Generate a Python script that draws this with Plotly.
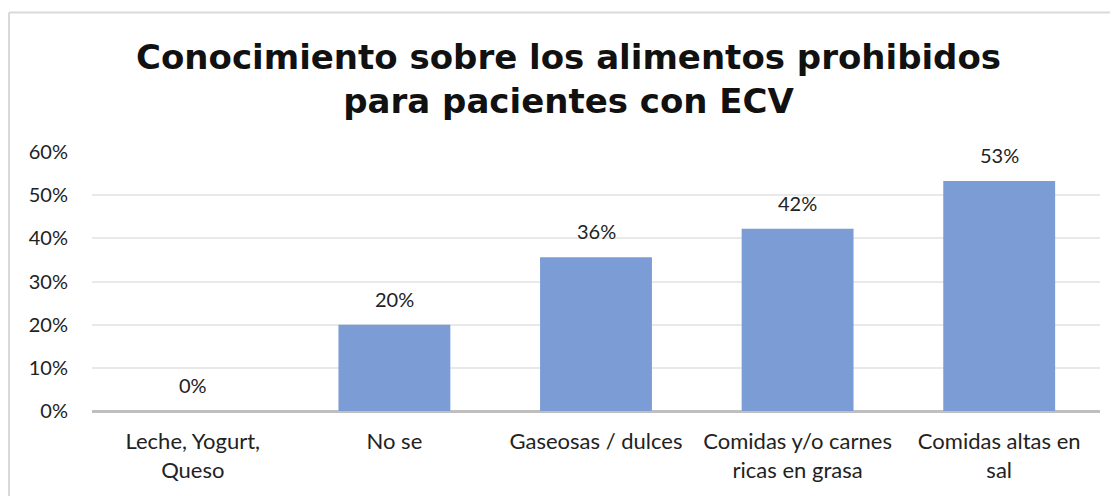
import plotly.graph_objects as go

categories = ["Leche, Yogurt,<br>Queso", "No se", "Gaseosas / dulces",
              "Comidas y/o carnes<br>ricas en grasa", "Comidas altas en<br>sal"]
values = [0.0, 0.20, 0.356, 0.422, 0.533]
tick_vals = [0, 0.1, 0.2, 0.3, 0.4, 0.5, 0.6]
tick_text = ["0%", "10%", "20%", "30%", "40%", "50%", "60%"]

W, H = 1110, 488
ml, mr, mt, mb = 84, 18, 144, 85
pw, ph = W - ml - mr, H - mt - mb

fig = go.Figure()
fig.add_trace(go.Bar(
    x=categories, y=values,
    marker=dict(color="#7B9CD5", line=dict(width=0)),
    hoverinfo="x+y",
))

annotations = [
    dict(x=c, y=v, xref="x", yref="y", text=f"{v:.0%}", showarrow=False,
         yanchor="bottom", yshift=12,
         font=dict(family="Lato", size=20, color="#222222"))
    for c, v in zip(categories, values)
]

# border lines (top and left only), in paper coordinates of the plot area
bx0 = (1 - ml) / pw
bx1 = (W + 20 - ml) / pw
by_top = (H - mb - 4.5) / ph
by_bot = -(mb + 20) / ph

fig.update_layout(
    width=W, height=H,
    margin=dict(l=ml, r=mr, t=mt, b=mb),
    paper_bgcolor="white", plot_bgcolor="white",
    bargap=0.445,
    showlegend=False,
    annotations=annotations,
    title=dict(
        text="<b>Conocimiento sobre los alimentos prohibidos<br>para pacientes con ECV</b>",
        font=dict(family="DejaVu Sans", size=34, color="#111111"),
        x=0.505, xanchor="center", y=0.875, yanchor="top", xref="container", yref="container",
    ),
    xaxis=dict(
        showgrid=False, showline=False, zeroline=False,
        tickfont=dict(family="Lato", size=22, color="#222222"),
        ticks="", ticklabelstandoff=15,
    ),
    yaxis=dict(
        range=[0, 0.6], tickvals=tick_vals, ticktext=tick_text,
        showgrid=True, gridcolor="#E9E9E9", gridwidth=1.5,
        zeroline=True, zerolinecolor="#BFBFBF", zerolinewidth=2.5,
        showline=False, ticks="",
        tickfont=dict(family="Lato", size=20, color="#222222"),
        ticklabelstandoff=23,
    ),
    shapes=[
        dict(type="line", xref="paper", yref="paper", x0=bx0, x1=bx1, y0=by_top, y1=by_top,
             line=dict(color="#D9D9D9", width=2), layer="below"),
        dict(type="line", xref="paper", yref="paper", x0=bx0, x1=bx0, y0=by_top, y1=by_bot,
             line=dict(color="#D9D9D9", width=2), layer="below"),
    ],
)

fig.write_html("out.html")
